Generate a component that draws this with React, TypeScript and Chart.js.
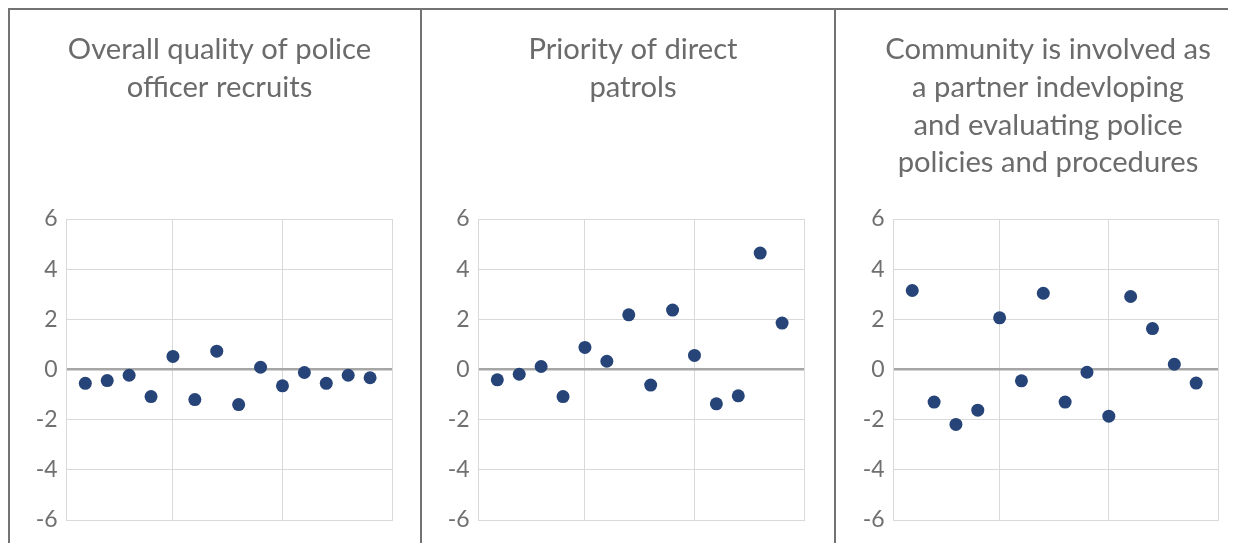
import React, { useEffect, useRef } from "react";
import { Chart, registerables } from "chart.js";

Chart.register(...registerables);

// Respondent index (x) for each point
const respondents = [1, 2, 3, 4, 5, 6, 7, 8, 9, 10, 11, 12, 13, 14];

const qualityTitle = ["Overall quality of police", "officer recruits"];
const patrolTitle = ["Priority of direct", "patrols"];
const communityTitle = [
  "Community is involved as",
  "a partner indevloping",
  "and evaluating police",
  "policies and procedures",
];

const qualityValues = [-0.55, -0.44, -0.23, -1.08, 0.52, -1.2, 0.73, -1.4, 0.09, -0.65, -0.12, -0.55, -0.23, -0.33];
const patrolValues = [-0.41, -0.19, 0.12, -1.08, 0.88, 0.33, 2.18, -0.62, 2.37, 0.56, -1.37, -1.05, 4.64, 1.85];
const communityValues = [3.15, -1.3, -2.19, -1.62, 2.06, -0.45, 3.04, -1.3, -0.11, -1.86, 2.91, 1.63, 0.21, -0.54];

const yMin = -6;
const yMax = 6;
const yStep = 2;
const xMin = 0.15;
const xMax = 15;
const xStep = 5;

type PanelProps = {
  title: string[];
  values: number[];
  width: number;
  left: number;
  axisWidth: number;
  rightSpace: number;
};

function Panel({ title, values, width, left, axisWidth, rightSpace }: PanelProps) {
  const ref = useRef<HTMLCanvasElement | null>(null);
  useEffect(() => {
    if (!ref.current) return;
    const lineH = 37.7;
    const fontSize = 29.2;
    const chart = new Chart(ref.current, {
      type: "scatter",
      data: {
        datasets: [
          {
            data: respondents.map((x, i) => ({ x, y: values[i] })),
            backgroundColor: "#264478",
            borderColor: "#264478",
            borderWidth: 0,
            pointRadius: 6.5,
            yAxisID: "y",
          },
        ],
      },
      options: {
        responsive: false,
        animation: false,
        layout: { padding: { left: 0, right: 0, top: 0, bottom: 23 } },
        plugins: {
          legend: { display: false },
          tooltip: { enabled: false },
          title: {
            display: true,
            text: title,
            color: "#6b6b6b",
            font: { family: "Lato", size: fontSize, weight: "normal", lineHeight: lineH / fontSize },
            padding: { top: 21, bottom: 209 - 21 - title.length * lineH },
          },
        },
        scales: {
          x: {
            type: "linear",
            min: xMin,
            max: xMax,
            ticks: { display: false, stepSize: xStep },
            grid: { color: "#d9d9d9", lineWidth: 1, drawTicks: false },
            border: { display: true, color: "#d9d9d9", width: 1 },
          },
          y: {
            min: yMin,
            max: yMax,
            ticks: {
              stepSize: yStep,
              color: "#707070",
              padding: 9,
              font: { family: "Lato", size: 23 },
            },
            grid: {
              drawTicks: false,
              color: (ctx: any) => (ctx.tick && ctx.tick.value === 0 ? "#a6a6a6" : "#d9d9d9"),
              lineWidth: (ctx: any) => (ctx.tick && ctx.tick.value === 0 ? 2.5 : 1),
            },
            border: { display: true, color: "#d9d9d9", width: 1 },
            afterFit: (scale: any) => {
              scale.width = axisWidth;
            },
          },
          spacer: {
            type: "linear",
            position: "right",
            display: true,
            min: 0,
            max: 1,
            ticks: { display: false },
            grid: { display: false, drawTicks: false },
            border: { display: false },
            afterFit: (scale: any) => {
              scale.width = rightSpace;
            },
          },
        },
      },
    });
    return () => chart.destroy();
  }, []);
  return (
    <canvas
      ref={ref}
      width={width}
      height={533}
      style={{ position: "absolute", left, top: 2, width, height: 533, display: "block" }}
    />
  );
}

export default function App() {
  useEffect(() => {
    document.documentElement.style.overflow = "hidden";
    document.body.style.overflow = "hidden";
  }, []);
  const line = "#737373";
  return (
    <div style={{ position: "relative", width: 1240, height: 535, overflow: "hidden", background: "#ffffff" }}>
      <Panel title={qualityTitle} values={qualityValues} width={419} left={2} axisWidth={56.7} rightSpace={37} />
      <Panel title={patrolTitle} values={patrolValues} width={422} left={414} axisWidth={56.7} rightSpace={40} />
      <Panel title={communityTitle} values={communityValues} width={424} left={828} axisWidth={57.7} rightSpace={42} />
      <div style={{ position: "absolute", left: 0, top: 0, width: 1240, height: 2, background: line }} />
      <div style={{ position: "absolute", left: 0, top: 0, width: 2, height: "100%", background: line }} />
      <div style={{ position: "absolute", left: 412, top: 0, width: 2, height: "100%", background: line }} />
      <div style={{ position: "absolute", left: 826, top: 0, width: 2, height: "100%", background: line }} />
    </div>
  );
}
